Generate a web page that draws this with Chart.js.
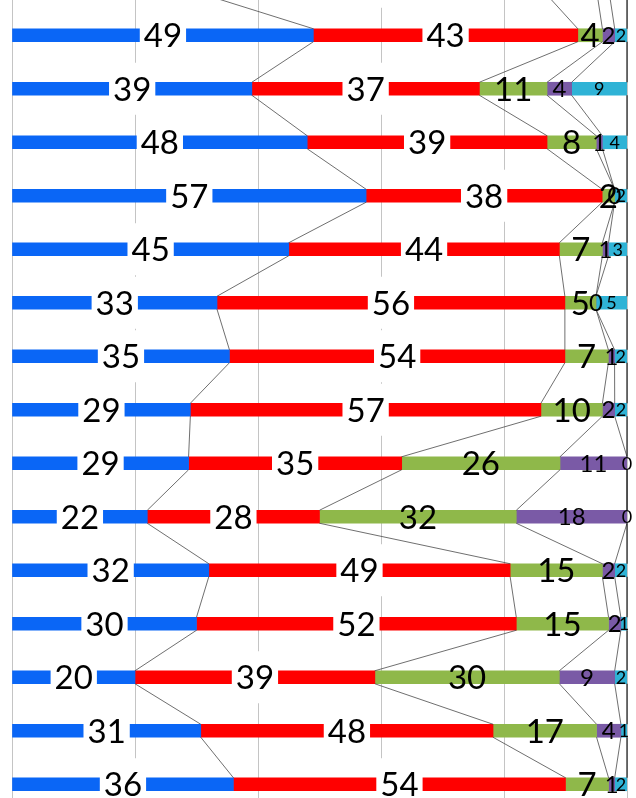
<!DOCTYPE html>
<html>
<head>
<meta charset="utf-8">
<script src="https://cdn.jsdelivr.net/npm/chart.js@4"></script>
<style>
  html, body { margin: 0; padding: 0; background: #fff; overflow: hidden; }
  #wrap { position: relative; width: 636px; height: 798px; overflow: hidden; }
  #chart { position: absolute; left: 0; top: -45px; }
</style>
</head>
<body>
<div id="wrap">
  <canvas id="chart" width="636" height="856"></canvas>
</div>
<script>
// rows from top to bottom (first row is mostly cut off by the top edge)
const categories = ['1', '2', '3', '4', '5', '6', '7', '8', '9', '10', '11', '12', '13', '14', '15', '16'];
const blueVals   = [28, 49, 39, 48, 57, 45, 33, 35, 29, 29, 22, 32, 30, 20, 31, 36];
const redVals    = [58, 43, 37, 39, 38, 44, 56, 54, 57, 35, 28, 49, 52, 39, 48, 54];
const greenVals  = [9, 4, 11, 8, 2, 7, 5, 7, 10, 26, 32, 15, 15, 30, 17, 7];
const purpleVals = [2, 2, 4, 1, 0, 1, 0, 1, 2, 11, 18, 2, 2, 9, 4, 1];
const cyanVals   = [3, 2, 9, 4, 2, 3, 5, 2, 2, 0, 0, 2, 1, 2, 1, 2];
const xTicks = [0, 20, 40, 60, 80, 100];

const seriesVals = [blueVals, redVals, greenVals, purpleVals, cyanVals];
const seriesColors = ['#0a66f6', '#ff0000', '#8fb84a', '#7a5aa6', '#2fb3d6'];
// label look per series: font size, white box or not
const labelSizes = [33, 33, 33, 24, 18];
const labelBoxed = [true, true, false, false, false];

// 100% stacked: each row is scaled to its total
const totals = categories.map((_, i) => seriesVals.reduce((s, arr) => s + arr[i], 0));

const datasets = seriesVals.map((vals, k) => ({
  data: vals.map((v, i) => v / totals[i] * 100),
  raw: vals,
  backgroundColor: seriesColors[k],
  borderWidth: 0,
  barThickness: 13,
  stack: 'all'
}));

// Excel style series lines between the bars + data labels
const seriesLinesAndLabels = {
  id: 'seriesLinesAndLabels',
  afterDatasetsDraw(chart) {
    const ctx = chart.ctx;
    const last = chart.data.datasets.length - 1;
    ctx.save();
    // series lines
    chart.data.datasets.forEach((ds, k) => {
      const bars = chart.getDatasetMeta(k).data;
      // the line at the end of the bars sits on 100% and looks black
      ctx.strokeStyle = k === last ? '#1a1a1a' : '#4a4a4a';
      ctx.lineWidth = k === last ? 1.2 : 0.8;
      for (let i = 0; i < bars.length - 1; i++) {
        const a = bars[i], b = bars[i + 1];
        ctx.beginPath();
        ctx.moveTo(a.x, a.y + a.height / 2);
        ctx.lineTo(b.x, b.y - b.height / 2);
        ctx.stroke();
      }
    });
    // labels
    ctx.textAlign = 'center';
    ctx.textBaseline = 'alphabetic';
    chart.data.datasets.forEach((ds, k) => {
      const bars = chart.getDatasetMeta(k).data;
      ctx.font = labelSizes[k] + 'px Lato, "Open Sans", sans-serif';
      bars.forEach((bar, i) => {
        const txt = String(ds.raw[i]);
        const cx = (bar.x + bar.base) / 2;
        const cy = bar.y;
        if (labelBoxed[k]) {
          const w = ctx.measureText(txt).width + 8;
          ctx.fillStyle = '#fff';
          ctx.fillRect(cx - w / 2, cy - 26, w, 52);
        }
        ctx.fillStyle = '#000';
        ctx.fillText(txt, cx, cy + labelSizes[k] * 0.36);
      });
    });
    ctx.restore();
  }
};

new Chart(document.getElementById('chart'), {
  type: 'bar',
  data: { labels: categories, datasets: datasets },
  options: {
    indexAxis: 'y',
    responsive: false,
    animation: false,
    layout: { padding: { left: 12, right: 9, top: 0, bottom: 0 } },
    plugins: { legend: { display: false }, tooltip: { enabled: false } },
    scales: {
      x: {
        stacked: true,
        min: 0,
        max: 100,
        afterBuildTicks: (scale) => { scale.ticks = xTicks.map(v => ({ value: v })); },
        ticks: { display: false },
        border: { display: false },
        grid: { color: '#c4c4c4', lineWidth: 1, drawTicks: false }
      },
      y: {
        stacked: true,
        display: false
      }
    }
  },
  plugins: [seriesLinesAndLabels]
});
</script>
</body>
</html>
